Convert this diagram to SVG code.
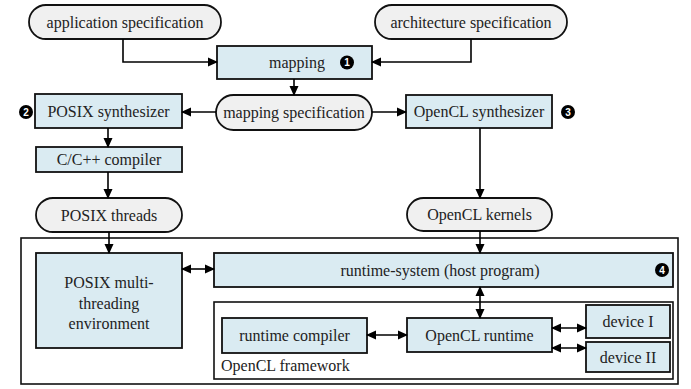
<svg xmlns="http://www.w3.org/2000/svg" width="691" height="389" viewBox="0 0 691 389">
<defs>
<marker id="ah" markerUnits="userSpaceOnUse" markerWidth="10" markerHeight="10" refX="9" refY="5" orient="auto-start-reverse" viewBox="0 0 10 10">
<path d="M0,0.5 L10,5 L0,9.5 z" fill="#000"/>
</marker>
<style>
.box{fill:#daebf2;stroke:#111;stroke-width:1.8}
.pill{fill:#f0f0f0;stroke:#111;stroke-width:1.8}
.frame{fill:#fff;stroke:#111;stroke-width:1.6}
.t{font-family:"Liberation Serif","Times New Roman",serif;font-size:16px;fill:#222;text-anchor:middle}
.tl{font-family:"Liberation Serif","Times New Roman",serif;font-size:16px;fill:#222}
.c{stroke:#000;stroke-width:1.6;fill:none}
.a{marker-end:url(#ah)}
.d{marker-start:url(#ah);marker-end:url(#ah)}
.bul{fill:#000}
.bt{font-family:"Liberation Sans",Arial,sans-serif;font-size:10px;font-weight:bold;fill:#fff;text-anchor:middle}
</style>
</defs>
<g id="outer-frame"><rect class="frame" x="21" y="238" width="657" height="146"/></g>
<g id="opencl-framework"><rect class="frame" x="214" y="302" width="459" height="77"/><text class="tl" x="221" y="371">OpenCL framework</text></g>
<g id="app-spec"><rect class="pill" x="29" y="5" width="192" height="34" rx="17"/><text class="t" x="125" y="27.5">application specification</text></g>
<g id="arch-spec"><rect class="pill" x="375" y="5" width="192" height="34" rx="17"/><text class="t" x="471" y="27.5">architecture specification</text></g>
<g id="mapping"><rect class="box" x="217" y="46" width="155" height="33"/><text class="t" x="297" y="68">mapping</text><circle class="bul" cx="347" cy="62.5" r="7"/><text class="bt" x="347" y="66.2">1</text></g>
<g id="mapping-spec"><rect class="pill" x="216" y="95" width="156" height="35" rx="17.5"/><text class="t" x="294" y="118">mapping specification</text></g>
<g id="posix-synth"><rect class="box" x="35" y="94" width="147" height="34"/><text class="t" x="108.5" y="116.5">POSIX synthesizer</text><circle class="bul" cx="26" cy="112" r="7"/><text class="bt" x="26" y="115.7">2</text></g>
<g id="opencl-synth"><rect class="box" x="406" y="95" width="146" height="33"/><text class="t" x="479" y="117">OpenCL synthesizer</text><circle class="bul" cx="568" cy="112" r="7"/><text class="bt" x="568" y="115.7">3</text></g>
<g id="cpp-compiler"><rect class="box" x="36" y="147" width="146" height="25"/><text class="t" x="109" y="165">C/C++ compiler</text></g>
<g id="posix-threads"><rect class="pill" x="36" y="198" width="146" height="34" rx="17"/><text class="t" x="109" y="220.5">POSIX threads</text></g>
<g id="opencl-kernels"><rect class="pill" x="407" y="198" width="145" height="33" rx="16.5"/><text class="t" x="479.5" y="220">OpenCL kernels</text></g>
<g id="posix-multi"><rect class="box" x="36" y="253" width="146" height="95"/><text class="t" x="109" y="288">POSIX multi-</text><text class="t" x="109" y="308.5">threading</text><text class="t" x="109" y="328.5">environment</text></g>
<g id="runtime-system"><rect class="box" x="214" y="253" width="459" height="34"/><text class="t" x="440" y="275.5">runtime-system (host program)</text><circle class="bul" cx="662" cy="270" r="7"/><text class="bt" x="662" y="273.7">4</text></g>
<g id="runtime-compiler"><rect class="box" x="222" y="318" width="145" height="35"/><text class="t" x="294.5" y="341">runtime compiler</text></g>
<g id="opencl-runtime"><rect class="box" x="407" y="318" width="145" height="34"/><text class="t" x="479.5" y="340.5">OpenCL runtime</text></g>
<g id="device-1"><rect class="box" x="586" y="305" width="84" height="33"/><text class="t" x="628" y="327">device I</text></g>
<g id="device-2"><rect class="box" x="586" y="342" width="84" height="30"/><text class="t" x="628" y="362.5">device II</text></g>
<g id="connectors">
<path class="c a" d="M123,39 V62 H217"/>
<path class="c a" d="M471,39 V62 H372"/>
<path class="c a" d="M294,79 V95"/>
<path class="c a" d="M216,112 H182"/>
<path class="c a" d="M372,112 H406"/>
<path class="c a" d="M108,128 V147"/>
<path class="c a" d="M108,172 V198"/>
<path class="c a" d="M109,232 V253"/>
<path class="c a" d="M480,128 V198"/>
<path class="c a" d="M480,231 V253"/>
<path class="c d" d="M182,269 H214"/>
<path class="c d" d="M480,287 V318"/>
<path class="c d" d="M367,335 H407"/>
<path class="c d" d="M552,328 H586"/>
<path class="c d" d="M552,348 H586"/>
</g>
</svg>
